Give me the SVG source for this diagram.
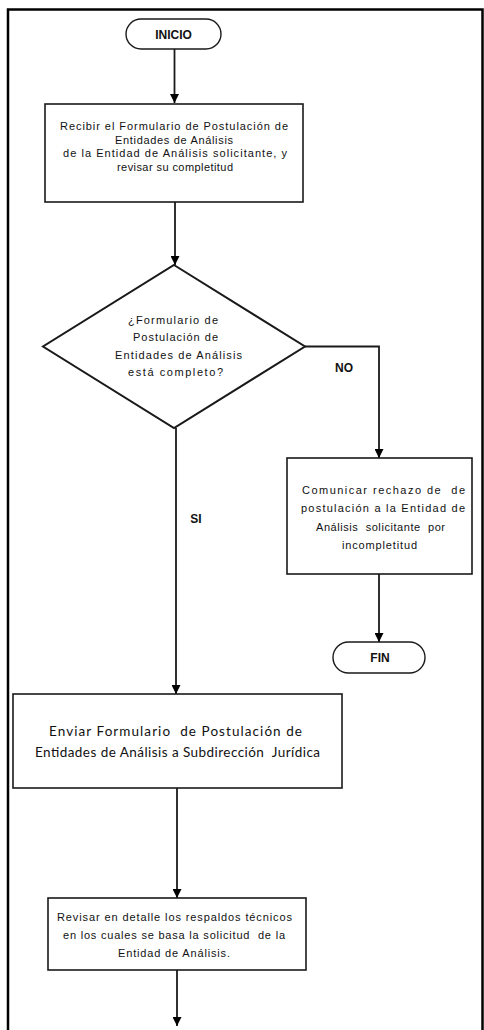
<svg xmlns="http://www.w3.org/2000/svg" width="484" height="1030" viewBox="0 0 484 1030">
<defs>
<marker id="arr" viewBox="0 0 10 10" refX="10" refY="5" markerWidth="9" markerHeight="9" markerUnits="userSpaceOnUse" orient="auto">
<path d="M0,0 L10,5 L0,10 z" fill="#000"/>
</marker>
<style>
.frame{fill:none;stroke:#000;stroke-width:2.5}
.box{fill:#fff;stroke:#1a1a1a;stroke-width:1.6}
.dia{fill:#fff;stroke:#1a1a1a;stroke-width:2}
.term{fill:#fff;stroke:#1a1a1a;stroke-width:1.4}
.con{fill:none;stroke:#1a1a1a;stroke-width:1.8;marker-end:url(#arr)}
.t{font-family:"Liberation Sans",Arial,sans-serif;font-size:11px;fill:#111;text-anchor:middle;white-space:pre}
.tb{font-family:"Liberation Sans",Arial,sans-serif;font-size:12px;font-weight:bold;fill:#111;text-anchor:middle}
.tc{font-family:Lato,"Liberation Sans",sans-serif;font-size:13.5px;fill:#111;text-anchor:middle;white-space:pre}
</style>
</defs>
<path class="frame" d="M8,1032 V9.5 H482.5 V1032"/>
<g id="connectors">
<line class="con" x1="174.5" y1="49" x2="174.5" y2="103"/>
<line class="con" x1="175" y1="202" x2="175" y2="265"/>
<polyline class="con" points="305,346.5 379,346.5 379,458"/>
<line class="con" x1="379" y1="574" x2="379" y2="642"/>
<line class="con" x1="176" y1="428" x2="176" y2="694"/>
<line class="con" x1="177" y1="788" x2="177" y2="898"/>
<line class="con" x1="177" y1="970" x2="177" y2="1026"/>
<text class="tb" x="344" y="372">NO</text>
<text class="tb" x="196" y="523">SI</text>
</g>
<g id="inicio">
<rect class="term" x="126" y="19" width="95" height="30" rx="15"/>
<text class="tb" x="173.5" y="38.5">INICIO</text>
</g>
<g id="recibir">
<rect class="box" x="45" y="104" width="258" height="98"/>
<text class="t" x="174" y="130" textLength="228" lengthAdjust="spacing">Recibir el Formulario de Postulación de</text>
<text class="t" x="174" y="144" textLength="118" lengthAdjust="spacing">Entidades de Análisis</text>
<text class="t" x="175" y="157" textLength="224" lengthAdjust="spacing">de la Entidad de Análisis solicitante, y</text>
<text class="t" x="175" y="171" textLength="116" lengthAdjust="spacing">revisar su completitud</text>
</g>
<g id="decision">
<polygon class="dia" points="174,265 305,346.5 174,428 43,346.5"/>
<text class="t" x="173" y="324" textLength="90" lengthAdjust="spacing">¿Formulario de</text>
<text class="t" x="175.5" y="341" textLength="85" lengthAdjust="spacing">Postulación de</text>
<text class="t" x="178.5" y="359" textLength="127" lengthAdjust="spacing">Entidades de Análisis</text>
<text class="t" x="175.5" y="376" textLength="95" lengthAdjust="spacing">está completo?</text>
</g>
<g id="comunicar">
<rect class="box" x="287" y="458" width="185" height="116"/>
<text class="t" x="383.5" y="494" textLength="163" lengthAdjust="spacing">Comunicar rechazo de  de</text>
<text class="t" x="383" y="512" textLength="164" lengthAdjust="spacing">postulación a la Entidad de</text>
<text class="t" x="380.5" y="531" textLength="129" lengthAdjust="spacing">Análisis  solicitante  por</text>
<text class="t" x="379.5" y="549" textLength="75" lengthAdjust="spacing">incompletitud</text>
</g>
<g id="fin">
<rect class="term" x="333" y="642" width="92" height="31" rx="15.5"/>
<text class="tb" x="380" y="662">FIN</text>
</g>
<g id="enviar">
<rect class="box" x="13" y="694" width="329" height="94"/>
<text class="tc" x="175.5" y="736" textLength="253" lengthAdjust="spacing">Enviar Formulario  de Postulación de</text>
<text class="tc" x="177.5" y="757" textLength="285" lengthAdjust="spacing">Entidades de Análisis a Subdirección  Jurídica</text>
</g>
<g id="revisar">
<rect class="box" x="48" y="898" width="258" height="72"/>
<text class="t" x="174.5" y="921" textLength="235" lengthAdjust="spacing">Revisar en detalle los respaldos técnicos</text>
<text class="t" x="174" y="939" textLength="222" lengthAdjust="spacing">en los cuales se basa la solicitud  de la</text>
<text class="t" x="174" y="957" textLength="112" lengthAdjust="spacing">Entidad de Análisis.</text>
</g>
</svg>
